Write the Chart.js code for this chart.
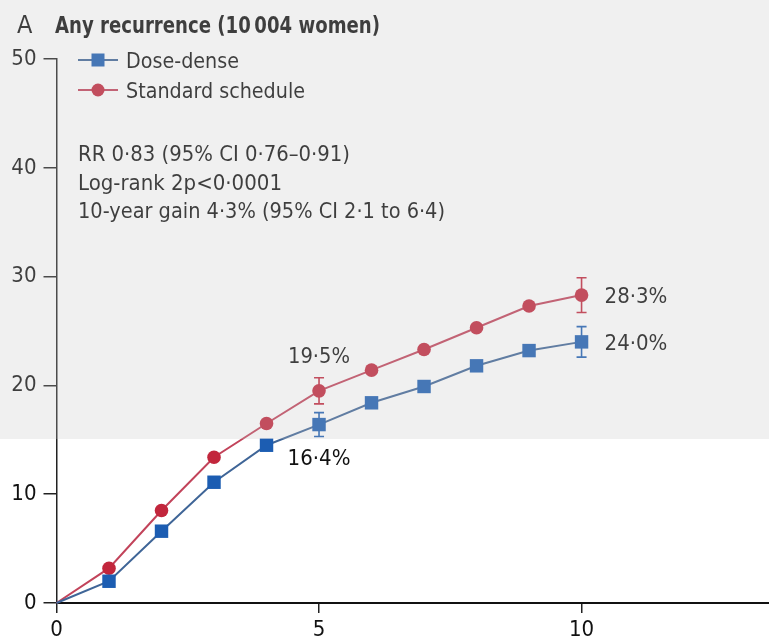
<!DOCTYPE html>
<html>
<head>
<meta charset="utf-8">
<script src="https://cdn.jsdelivr.net/npm/chart.js@4.4.1/dist/chart.umd.min.js"></script>
<style>
  html, body { margin: 0; padding: 0; background: #fff; }
  #wrap { width: 769px; height: 641px; position: relative; }
</style>
</head>
<body>
<div id="wrap"><canvas id="c" width="769" height="641"></canvas></div>
<script>
// Cumulative recurrence (%) by year since randomisation
const years = [0, 1, 2, 3, 4, 5, 6, 7, 8, 9, 10];
const doseDense = [0, 2.0, 6.6, 11.1, 14.5, 16.4, 18.4, 19.9, 21.8, 23.2, 24.0];
const standard = [0, 3.2, 8.5, 13.4, 16.5, 19.5, 21.4, 23.3, 25.3, 27.3, 28.3];

// 95% confidence limits shown at 5 and 10 years
const ciYears = [5, 10];
const doseDenseLow = [15.3, 22.6];
const doseDenseHigh = [17.5, 25.4];
const standardLow = [18.3, 26.7];
const standardHigh = [20.7, 29.9];

const xTicks = [0, 5, 10];
const yTicks = [0, 10, 20, 30, 40, 50];

const seriesNames = ['Dose-dense', 'Standard schedule'];
const panelLetter = 'A';
const panelTitle = 'Any recurrence (10\u2009004 women)';
const statsLines = [
  'RR 0·83 (95% CI 0·76–0·91)',
  'Log-rank 2p<0·0001',
  '10-year gain 4·3% (95% CI 2·1 to 6·4)'
];

const FAMILY = "'DejaVu Sans Condensed', 'DejaVu Sans', sans-serif";
const INK = '#111111';
const BLUE_LINE = '#3f6597';
const BLUE_MARK = '#1c5db2';
const RED_LINE = '#c2435a';
const RED_MARK = '#c2263c';

const fmt = v => v.toFixed(1).replace('.', '·') + '%';

const decor = {
  id: 'decor',
  beforeDraw(chart) {
    const c = chart.ctx;
    c.save();
    c.fillStyle = '#ffffff';
    c.fillRect(0, 0, chart.width, chart.height);
    c.restore();
  },
  beforeDatasetsDraw(chart) {
    const c = chart.ctx, xs = chart.scales.x, ys = chart.scales.y;
    const bars = [
      { lo: doseDenseLow, hi: doseDenseHigh, color: BLUE_MARK },
      { lo: standardLow, hi: standardHigh, color: RED_MARK }
    ];
    c.save();
    c.lineWidth = 1.6;
    bars.forEach(b => {
      c.strokeStyle = b.color;
      ciYears.forEach((yr, i) => {
        const px = xs.getPixelForValue(yr);
        const top = ys.getPixelForValue(b.hi[i]);
        const bot = ys.getPixelForValue(b.lo[i]);
        c.beginPath();
        c.moveTo(px, top); c.lineTo(px, bot);
        c.moveTo(px - 5, top); c.lineTo(px + 5, top);
        c.moveTo(px - 5, bot); c.lineTo(px + 5, bot);
        c.stroke();
      });
    });
    c.restore();
  },
  afterDraw(chart) {
    const c = chart.ctx, xs = chart.scales.x, ys = chart.scales.y;
    c.save();
    c.fillStyle = INK;
    c.textBaseline = 'alphabetic';

    // panel heading
    c.textAlign = 'left';
    c.font = `25px ${FAMILY}`;
    c.fillText(panelLetter, 17, 33);
    c.font = `bold 23px ${FAMILY}`;
    c.fillText(panelTitle, 55, 33, 325);

    // legend
    const legend = [
      { y: 60, line: BLUE_LINE, mark: BLUE_MARK, style: 'rect', w: 113 },
      { y: 90, line: RED_LINE, mark: RED_MARK, style: 'circle', w: 179 }
    ];
    legend.forEach((l, i) => {
      c.strokeStyle = l.line;
      c.lineWidth = 2;
      c.beginPath(); c.moveTo(78, l.y); c.lineTo(118, l.y); c.stroke();
      c.fillStyle = l.mark;
      if (l.style === 'rect') {
        c.fillRect(98 - 6.5, l.y - 6.5, 13, 13);
      } else {
        c.beginPath(); c.arc(98, l.y, 6.5, 0, Math.PI * 2); c.fill();
      }
      c.fillStyle = INK;
      c.font = `22px ${FAMILY}`;
      c.fillText(seriesNames[i], 126, l.y + 8, l.w);
    });

    // summary statistics
    c.font = `22px ${FAMILY}`;
    const statBase = [161, 190, 218];
    const statW = [272, 205, 367];
    statsLines.forEach((t, i) => c.fillText(t, 78, statBase[i], statW[i]));

    // value labels at 5 and 10 years
    const i5 = years.indexOf(5), i10 = years.indexOf(10);
    const p5 = xs.getPixelForValue(5), p10 = xs.getPixelForValue(10);
    c.font = `22px ${FAMILY}`;
    c.textAlign = 'center';
    c.fillText(fmt(standard[i5]), p5, ys.getPixelForValue(standard[i5]) - 28, 62);
    c.fillText(fmt(doseDense[i5]), p5, ys.getPixelForValue(doseDense[i5]) + 40, 64);
    c.textAlign = 'left';
    c.fillText(fmt(standard[i10]), p10 + 23, ys.getPixelForValue(standard[i10]) + 8, 63);
    c.fillText(fmt(doseDense[i10]), p10 + 23, ys.getPixelForValue(doseDense[i10]) + 8, 63);

    // light grey haze over the upper part of the panel
    c.fillStyle = 'rgba(196,196,196,0.255)';
    c.fillRect(0, 0, chart.width, 439);
    c.restore();
  }
};

new Chart(document.getElementById('c'), {
  type: 'line',
  data: {
    datasets: [
      {
        label: seriesNames[0],
        data: years.map((x, i) => ({ x, y: doseDense[i] })),
        borderColor: BLUE_LINE,
        borderWidth: 2,
        backgroundColor: BLUE_MARK,
        pointBackgroundColor: BLUE_MARK,
        pointBorderColor: BLUE_MARK,
        pointBorderWidth: 0,
        pointStyle: 'rect',
        pointRadius: ctx => (ctx.raw && ctx.raw.x === 0 ? 0 : 9.5),
        tension: 0,
        clip: false
      },
      {
        label: seriesNames[1],
        data: years.map((x, i) => ({ x, y: standard[i] })),
        borderColor: RED_LINE,
        borderWidth: 2,
        backgroundColor: RED_MARK,
        pointBackgroundColor: RED_MARK,
        pointBorderColor: RED_MARK,
        pointBorderWidth: 0,
        pointStyle: 'circle',
        pointRadius: ctx => (ctx.raw && ctx.raw.x === 0 ? 0 : 6.8),
        tension: 0,
        clip: false
      }
    ]
  },
  options: {
    responsive: false,
    animation: false,
    devicePixelRatio: 1,
    layout: { autoPadding: false, padding: { top: 59, right: 0, bottom: 0, left: 0 } },
    plugins: { legend: { display: false }, tooltip: { enabled: false }, title: { display: false } },
    scales: {
      x: {
        type: 'linear',
        min: 0,
        max: 13.57,
        afterBuildTicks: s => { s.ticks = xTicks.map(v => ({ value: v })); },
        afterFit: s => { s.height = 38; },
        grid: { drawOnChartArea: false, drawTicks: true, tickLength: 10, tickColor: '#222', lineWidth: 1.5 },
        border: { display: true, color: '#111', width: 2 },
        ticks: { color: INK, font: { family: FAMILY, size: 22 }, padding: 4, maxRotation: 0, autoSkip: false }
      },
      y: {
        type: 'linear',
        min: 0,
        max: 50,
        afterBuildTicks: s => { s.ticks = yTicks.map(v => ({ value: v })); },
        afterFit: s => { s.width = 56.5; },
        grid: { drawOnChartArea: false, drawTicks: true, tickLength: 13, tickColor: '#222', lineWidth: 1.5 },
        border: { display: true, color: '#222', width: 1.5 },
        ticks: { color: INK, font: { family: FAMILY, size: 22 }, padding: 7 }
      }
    }
  },
  plugins: [decor]
});
</script>
</body>
</html>
